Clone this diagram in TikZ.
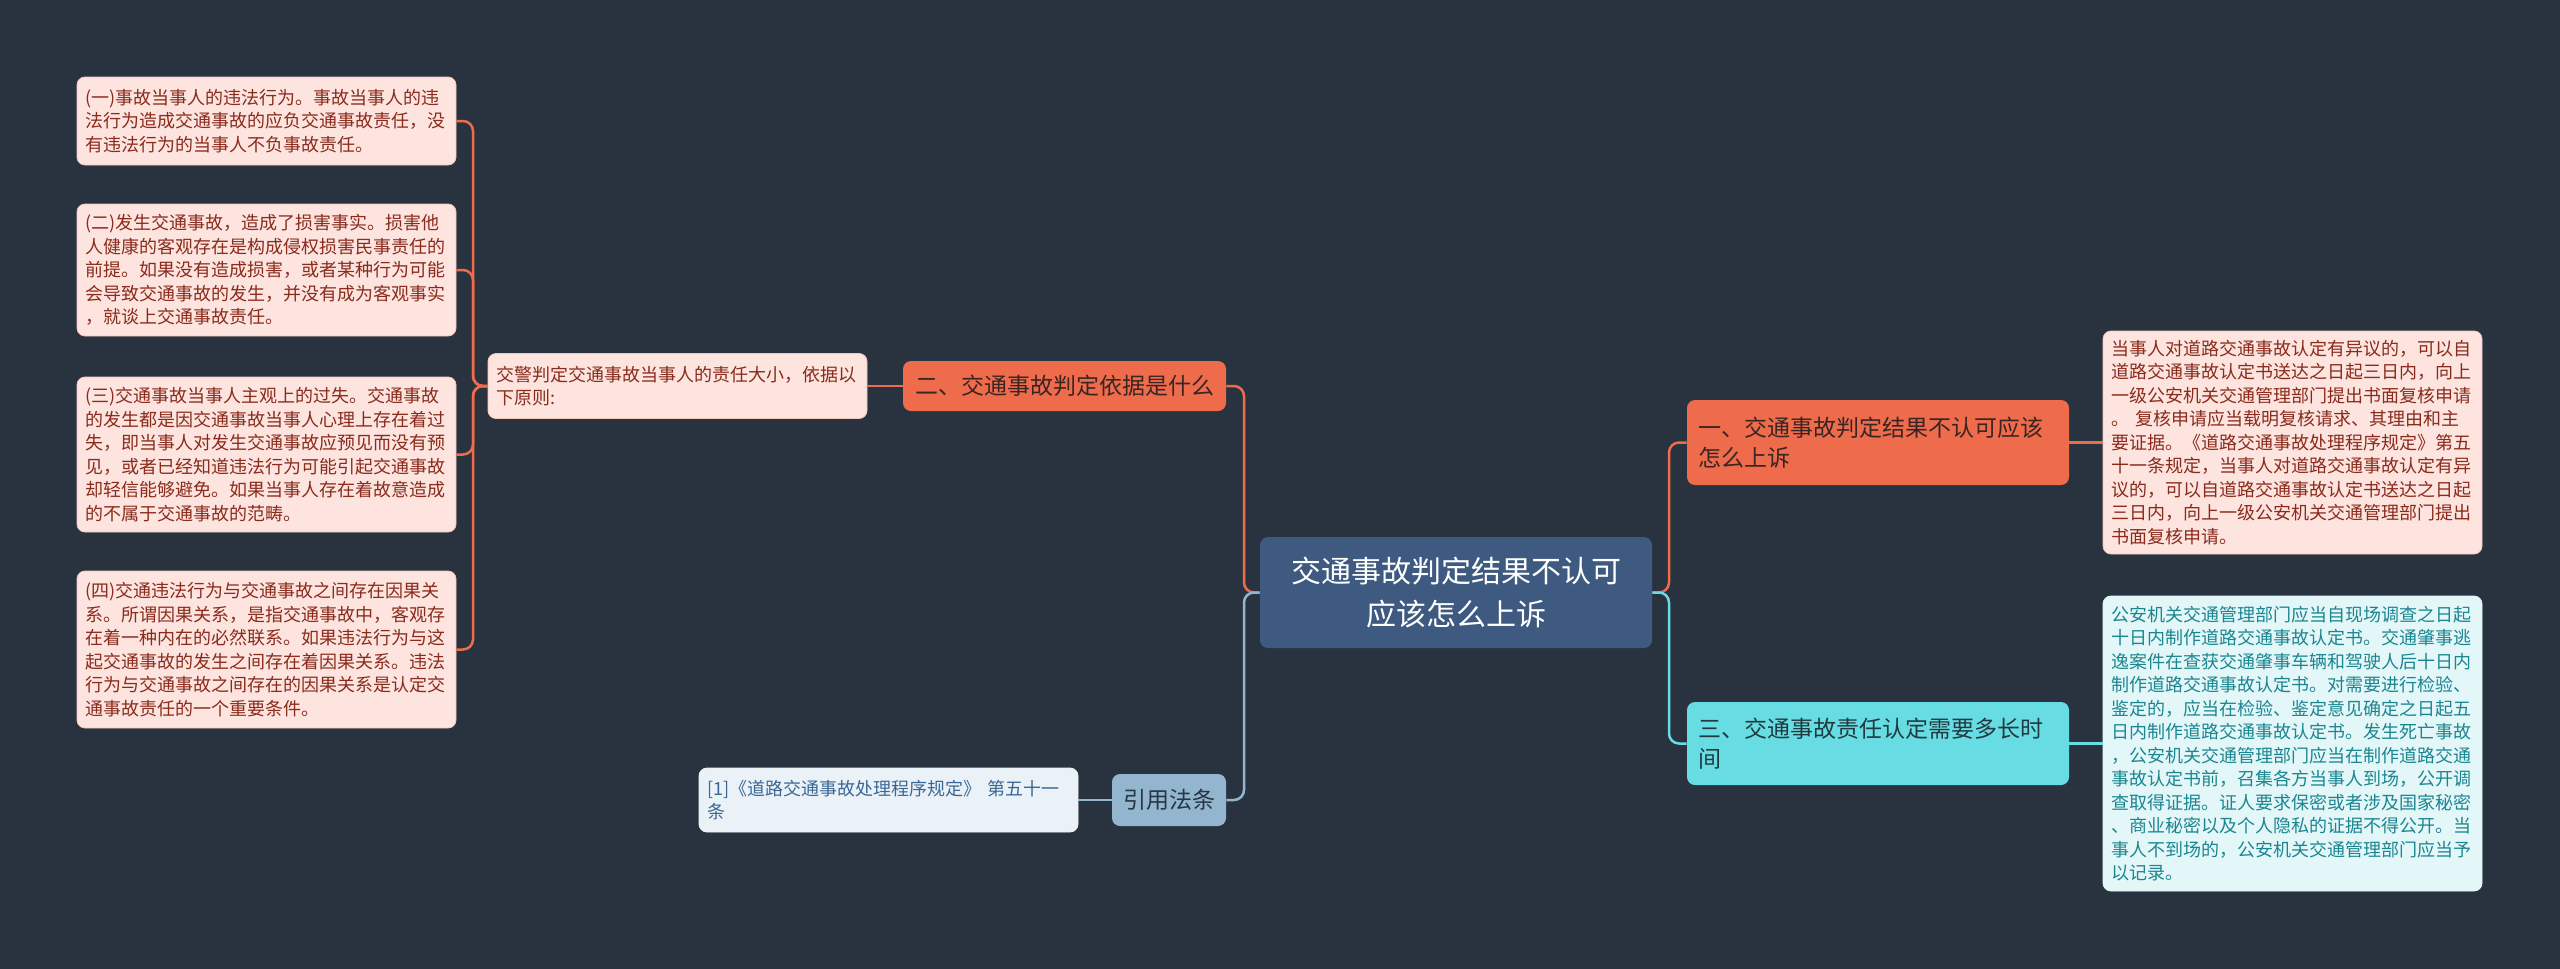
\documentclass[tikz,border=0pt]{standalone}
\usepackage{fontspec}
\setmainfont{Noto Sans CJK SC}
\definecolor{bg}{HTML}{29323F}
\definecolor{centerfill}{HTML}{3E5A80}
\definecolor{orangefill}{HTML}{EE6B4C}
\definecolor{orangetext}{HTML}{3A2522}
\definecolor{pinkfill}{HTML}{FDE4DF}
\definecolor{pinkline}{HTML}{F3C6BC}
\definecolor{redtext}{HTML}{8A2B1C}
\definecolor{cyanfill}{HTML}{68DCE3}
\definecolor{cyantext}{HTML}{1F3B40}
\definecolor{lcyanfill}{HTML}{E3F7F9}
\definecolor{tealtext}{HTML}{1B8690}
\definecolor{bluefill}{HTML}{93B5CE}
\definecolor{bluetext}{HTML}{263646}
\definecolor{lbluefill}{HTML}{EAF2F8}
\definecolor{lbluetext}{HTML}{3A6896}
\begin{document}
\begin{tikzpicture}[x=0.5pt,y=-0.5pt,
  small/.style={font=\fontsize{9pt}{11.75pt}\selectfont},
  mid/.style={font=\fontsize{11.5pt}{15pt}\selectfont},
  box/.style={rounded corners=4pt, inner ysep=0pt},
  leaf/.style={box, small, fill=pinkfill, draw=pinkline, line width=0.4pt, text=redtext,
     minimum width=189.5pt, text width=181pt, inner xsep=4.25pt, align=left},
  cleaf/.style={leaf, fill=lcyanfill, draw=lcyanfill, text=tealtext},
  bleaf/.style={leaf, fill=lbluefill, draw=lbluefill, text=lbluetext},
  obranch/.style={box, mid, fill=orangefill, text=orangetext},
  cbranch/.style={box, mid, fill=cyanfill, text=cyantext},
  bbranch/.style={box, mid, fill=bluefill, text=bluetext},
  wide/.style={minimum width=191pt, text width=180pt, inner xsep=5.5pt, align=left},
  oline/.style={draw=orangefill, line width=1.25pt, rounded corners=5pt},
  cline/.style={draw=cyanfill, line width=1.25pt, rounded corners=5pt},
  bline/.style={draw=bluefill, line width=1.25pt, rounded corners=5pt}]
\fill[bg] (0,0) rectangle (2560,969);
\useasboundingbox (0,0) rectangle (2560,969);

% center
\node[box, fill=centerfill, text=white, font=\fontsize{15pt}{21.5pt}\selectfont,
  minimum width=196pt, minimum height=55.5pt, align=center] (c) at (1456,592.5)
  {交通事故判定结果不认可\\应该怎么上诉};

% left side
\node[obranch, minimum width=161.5pt, minimum height=25pt] (n2) at (1064.5,386) {二、交通事故判定依据是什么};
\node[leaf, minimum height=32.5pt] (jj) at (677.5,386)
  {交警判定交通事故当事人的责任大小，依据以\\下原则:};
\node[leaf, minimum height=44pt] (l1) at (266.5,121)
  {(一)事故当事人的违法行为。事故当事人的违\\法行为造成交通事故的应负交通事故责任，没\\有违法行为的当事人不负事故责任。};
\node[leaf, minimum height=66pt] (l2) at (266.5,270)
  {(二)发生交通事故，造成了损害事实。损害他\\人健康的客观存在是构成侵权损害民事责任的\\前提。如果没有造成损害，或者某种行为可能\\会导致交通事故的发生，并没有成为客观事实\\，就谈上交通事故责任。};
\node[leaf, minimum height=77.5pt] (l3) at (266.5,454.5)
  {(三)交通事故当事人主观上的过失。交通事故\\的发生都是因交通事故当事人心理上存在着过\\失，即当事人对发生交通事故应预见而没有预\\见，或者已经知道违法行为可能引起交通事故\\却轻信能够避免。如果当事人存在着故意造成\\的不属于交通事故的范畴。};
\node[leaf, minimum height=78.5pt] (l4) at (266.5,649.5)
  {(四)交通违法行为与交通事故之间存在因果关\\系。所谓因果关系，是指交通事故中，客观存\\在着一种内在的必然联系。如果违法行为与这\\起交通事故的发生之间存在着因果关系。违法\\行为与交通事故之间存在的因果关系是认定交\\通事故责任的一个重要条件。};
\node[bbranch, minimum width=57pt, minimum height=26pt] (cite) at (1169,800) {引用法条};
\node[bleaf, minimum height=32pt] (ref) at (888.5,800)
  {[1]《道路交通事故处理程序规定》 第五十一\\条};

% right side
\node[obranch, wide, minimum height=42.5pt] (n1) at (1878,442.5)
  {一、交通事故判定结果不认可应该\\怎么上诉};
\node[leaf, minimum height=111.5pt] (r1) at (2292.5,442.5)
  {当事人对道路交通事故认定有异议的，可以自\\道路交通事故认定书送达之日起三日内，向上\\一级公安机关交通管理部门提出书面复核申请\\。 复核申请应当载明复核请求、其理由和主\\要证据。《道路交通事故处理程序规定》第五\\十一条规定，当事人对道路交通事故认定有异\\议的，可以自道路交通事故认定书送达之日起\\三日内，向上一级公安机关交通管理部门提出\\书面复核申请。};
\node[cbranch, wide, minimum height=41.5pt] (n3) at (1878,743.5)
  {三、交通事故责任认定需要多长时\\间};
\node[cleaf, minimum height=147.5pt] (r2) at (2292.5,743.5)
  {公安机关交通管理部门应当自现场调查之日起\\十日内制作道路交通事故认定书。交通肇事逃\\逸案件在查获交通肇事车辆和驾驶人后十日内\\制作道路交通事故认定书。对需要进行检验、\\鉴定的，应当在检验、鉴定意见确定之日起五\\日内制作道路交通事故认定书。发生死亡事故\\，公安机关交通管理部门应当在制作道路交通\\事故认定书前，召集各方当事人到场，公开调\\查取得证据。证人要求保密或者涉及国家秘密\\、商业秘密以及个人隐私的证据不得公开。当\\事人不到场的，公安机关交通管理部门应当予\\以记录。};

% junction coordinates
\coordinate (cl) at (1244,592.5);
\coordinate (cr) at (1669,592.5);
\coordinate (jl) at (473,386);

% connectors
\begin{scope}[on background layer/.style={}]
\draw[oline] (c.west) -- (cl) |- (n2.east);
\draw[bline] (c.west) -- (cl) |- (cite.east);
\draw[oline] (c.east) -- (cr) |- (n1.west);
\draw[cline] (c.east) -- (cr) |- (n3.west);
\draw[oline] (n2.west) -- (jj.east);
\draw[bline] (cite.west) -- (ref.east);
\draw[oline] (n1.east) -- (r1.west);
\draw[cline] (n3.east) -- (r2.west);
\draw[oline] (jj.west) -- (jl) |- (l1.east);
\draw[oline] (jj.west) -- (jl) |- (l2.east);
\draw[oline] (jj.west) -- (jl) |- (l3.east);
\draw[oline] (jj.west) -- (jl) |- (l4.east);
\end{scope}
\end{tikzpicture}
\end{document}
